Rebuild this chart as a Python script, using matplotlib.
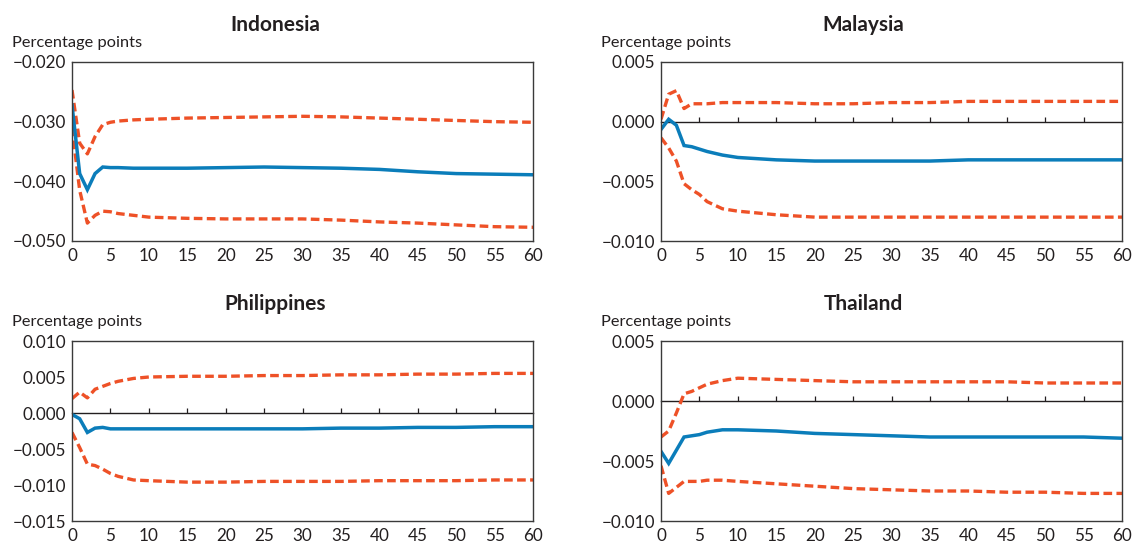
import numpy as np
import matplotlib
matplotlib.use("Agg")
import matplotlib.pyplot as plt
from matplotlib.ticker import FuncFormatter

plt.rcParams['font.family'] = ['Lato', 'DejaVu Sans']

horizon = [0, 1, 2, 3, 4, 5, 6, 8, 10, 15, 20, 25, 30, 35, 40, 45, 50, 55, 60]

indonesia_mid = [-0.0272, -0.0387, -0.0414, -0.0387, -0.0376, -0.0377, -0.0377, -0.0378, -0.0378, -0.0378,
                 -0.0377, -0.0376, -0.0377, -0.0378, -0.0380, -0.0384, -0.0387, -0.0388, -0.0389]
indonesia_up = [-0.0247, -0.0336, -0.0354, -0.0325, -0.0305, -0.0301, -0.0299, -0.0297, -0.0296, -0.0294,
                -0.0293, -0.0292, -0.0291, -0.0292, -0.0294, -0.0296, -0.0298, -0.0300, -0.0301]
indonesia_lo = [-0.0310, -0.0415, -0.0470, -0.0457, -0.0450, -0.0451, -0.0454, -0.0457, -0.0460, -0.0462,
                -0.0463, -0.0463, -0.0463, -0.0465, -0.0468, -0.0470, -0.0473, -0.0476, -0.0477]

malaysia_mid = [-0.00065, 0.0002, -0.0003, -0.0020, -0.0021, -0.0023, -0.0025, -0.0028, -0.0030, -0.0032,
                -0.0033, -0.0033, -0.0033, -0.0033, -0.0032, -0.0032, -0.0032, -0.0032, -0.0032]
malaysia_up = [0.0002, 0.0023, 0.0026, 0.0011, 0.0015, 0.0015, 0.0015, 0.0016, 0.0016, 0.0016,
               0.0015, 0.0015, 0.0016, 0.0016, 0.0017, 0.0017, 0.0017, 0.0017, 0.0017]
malaysia_lo = [-0.00135, -0.0022, -0.0033, -0.0052, -0.0057, -0.0061, -0.0067, -0.0073, -0.0075, -0.0078,
               -0.0080, -0.0080, -0.0080, -0.0080, -0.0080, -0.0080, -0.0080, -0.0080, -0.0080]

philippines_mid = [-0.0002, -0.0008, -0.0027, -0.0021, -0.0020, -0.0022, -0.0022, -0.0022, -0.0022, -0.0022,
                   -0.0022, -0.0022, -0.0022, -0.0021, -0.0021, -0.0020, -0.0020, -0.0019, -0.0019]
philippines_up = [0.0020, 0.0029, 0.0021, 0.0033, 0.0037, 0.0041, 0.0044, 0.0048, 0.0050, 0.0051,
                  0.0051, 0.0052, 0.0052, 0.0053, 0.0053, 0.0054, 0.0054, 0.0055, 0.0055]
philippines_lo = [-0.0027, -0.0048, -0.0071, -0.0073, -0.0078, -0.0084, -0.0088, -0.0093, -0.0094, -0.0096,
                  -0.0096, -0.0095, -0.0095, -0.0095, -0.0094, -0.0094, -0.0094, -0.0093, -0.0093]

thailand_mid = [-0.0042, -0.0052, -0.0041, -0.0030, -0.0029, -0.0028, -0.0026, -0.0024, -0.0024, -0.0025,
                -0.0027, -0.0028, -0.0029, -0.0030, -0.0030, -0.0030, -0.0030, -0.0030, -0.0031]
thailand_up = [-0.0030, -0.0025, -0.0010, 0.0006, 0.0008, 0.0011, 0.0014, 0.0017, 0.0019, 0.0018,
               0.0017, 0.0016, 0.0016, 0.0016, 0.0016, 0.0016, 0.0015, 0.0015, 0.0015]
thailand_lo = [-0.0054, -0.0077, -0.0072, -0.0067, -0.0067, -0.0067, -0.0066, -0.0066, -0.0067, -0.0069,
               -0.0071, -0.0073, -0.0074, -0.0075, -0.0075, -0.0076, -0.0076, -0.0077, -0.0077]

countries = ['Indonesia', 'Malaysia', 'Philippines', 'Thailand']
y_limits = [(-0.050, -0.020), (-0.010, 0.005), (-0.015, 0.010), (-0.010, 0.005)]
y_steps = [0.010, 0.005, 0.005, 0.005]
series = [(indonesia_mid, indonesia_up, indonesia_lo),
          (malaysia_mid, malaysia_up, malaysia_lo),
          (philippines_mid, philippines_up, philippines_lo),
          (thailand_mid, thailand_up, thailand_lo)]

BLUE = '#0B7DBA'
ORANGE = '#EE5127'
TXT = '#231F20'
SPINE = '#3A3A3A'

W, H = 1137, 543
fig = plt.figure(figsize=(W / 100, H / 100), dpi=100)

# axes boxes in pixels: left, top, right, bottom
boxes = [(72, 62, 533, 241), (661, 62, 1122, 241),
         (72, 341, 533, 521), (661, 341, 1122, 521)]

fmt = FuncFormatter(lambda v, p: ('%.3f' % v).replace('-', '\u2212'))

for k, name in enumerate(countries):
    l, t, r, b = boxes[k]
    ax = fig.add_axes([l / W, 1 - b / H, (r - l) / W, (b - t) / H])
    mid, up, lo = series[k]
    ax.plot(horizon, up, color=ORANGE, lw=2.4, ls=(0, (2.6, 1.3)))
    ax.plot(horizon, lo, color=ORANGE, lw=2.4, ls=(0, (2.6, 1.3)))
    ax.plot(horizon, mid, color=BLUE, lw=2.5, solid_joinstyle='miter')

    y0, y1 = y_limits[k]
    ax.set_xlim(0, 60)
    ax.set_ylim(y0, y1)
    ax.set_xticks(range(0, 61, 5))
    ax.set_yticks(np.arange(y0, y1 + 1e-9, y_steps[k]))
    ax.yaxis.set_major_formatter(fmt)
    ax.tick_params(axis='y', length=0, pad=4, labelsize=12.3, labelcolor=TXT)
    ax.tick_params(axis='x', length=0, pad=5, labelsize=12.3, labelcolor=TXT)
    for s in ax.spines.values():
        s.set_color(SPINE)
        s.set_linewidth(1.0)

    if y0 < 0 < y1:
        frac = (0 - y0) / (y1 - y0)
        sec = ax.secondary_xaxis(frac)
        sec.set_xticks(range(5, 60, 5))
        sec.tick_params(direction='in' if frac < 0.5 else 'out', length=3.5, width=0.9,
                        color=TXT, labelbottom=False, labeltop=False)
        for s in sec.spines.values():
            s.set_color(TXT)
            s.set_linewidth(1.0)
    else:
        ax.set_xticks(range(5, 60, 5), minor=True)
        ax.tick_params(axis='x', which='minor', top=True, bottom=False, direction='in',
                       length=3.5, width=0.9, color=TXT)

    h = b - t
    ax.text((275 - 72) / (r - l) if k % 2 == 0 else (863 - 661) / (r - l), 1 + 37 / h, name,
            transform=ax.transAxes, ha='center', va='center', fontsize=15,
            fontweight='bold', color=TXT)
    ax.text((12 - 72) / (r - l), 1 + 19 / h, 'Percentage points', transform=ax.transAxes,
            ha='left', va='center', fontsize=11.8, color=TXT)

fig.savefig('out.png', dpi=100)
